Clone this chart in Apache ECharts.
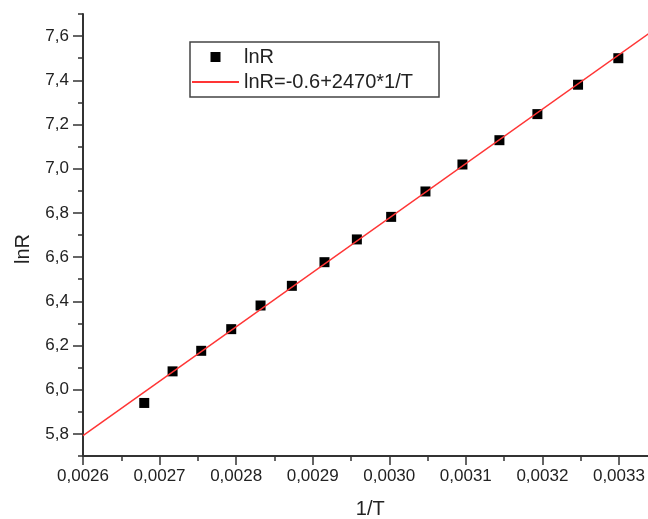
<!DOCTYPE html>
<html>
<head>
<meta charset="utf-8">
<script src="https://cdn.jsdelivr.net/npm/echarts@6/dist/echarts.min.js"></script>
<style>html,body{margin:0;padding:0;background:#fff;}#c{width:648px;height:519px;}</style>
</head>
<body>
<div id="c"></div>
<script>
// Data
var invT = [0.002680, 0.002717, 0.0027544, 0.0027936, 0.0028319, 0.0028728, 0.0029154, 0.0029577, 0.0030025, 0.0030473, 0.0030956, 0.0031439, 0.0031935, 0.0032466, 0.0032992];
var lnR = [5.940, 6.083, 6.176, 6.274, 6.381, 6.470, 6.577, 6.680, 6.782, 6.897, 7.019, 7.129, 7.247, 7.380, 7.500];
var fitX = [0.0026, 0.00334];
var fitY = [5.792, 7.614];
var seriesNames = ['lnR', 'lnR=-0.6+2470*1/T'];
var xTicks = {min: 0.0026, max: 0.0034, step: 0.0001};
var yTicks = {min: 5.8, max: 7.6, step: 0.2};
var yRange = {min: 5.7, max: 7.7, minorStep: 0.1};

var pts = invT.map(function (x, i) { return [x, lnR[i]]; });
var fit = fitX.map(function (x, i) { return [x, fitY[i]]; });

var FONT = '"Liberation Sans", Arial, sans-serif';
var TXT = '#222';
var AX = '#333';

var chart = echarts.init(document.getElementById('c'), null, {renderer: 'canvas'});
chart.setOption({
  animation: false,
  backgroundColor: '#fff',
  grid: [
    {left: 83, right: -47.5, top: 14, bottom: 63, outerBoundsMode: 'none', containLabel: false},
    {left: 83, right: -47.5, top: 36.1, bottom: 85.1, outerBoundsMode: 'none', containLabel: false}
  ],
  legend: {
    orient: 'vertical',
    left: 190, top: 42,
    padding: [5, 26, 5, 1],
    itemWidth: 47, itemHeight: 10, itemGap: 5, itemTextGap: 5,
    borderColor: '#444', borderWidth: 1.5,
    textStyle: {fontFamily: FONT, fontSize: 20, color: TXT},
    data: [
      {name: seriesNames[0], icon: 'path://M0,0H10V10H0Z', itemStyle: {color: '#000', opacity: 1}},
      {name: seriesNames[1], itemStyle: {color: 'rgba(0,0,0,0)', borderColor: 'rgba(0,0,0,0)', borderWidth: 0}}
    ]
  },
  xAxis: [
    {
      gridIndex: 0, type: 'value',
      min: xTicks.min, max: xTicks.max, interval: xTicks.step,
      name: '1/T', nameLocation: 'middle', nameGap: 43,
      nameTextStyle: {fontFamily: FONT, fontSize: 20, color: TXT, padding: [0, 38, 0, 0]},
      axisLine: {show: true, lineStyle: {color: AX, width: 2}},
      axisTick: {show: true, inside: false, length: 9, lineStyle: {color: AX, width: 1.5}},
      minorTick: {show: true, splitNumber: 2, length: 5, lineStyle: {color: AX, width: 1.5}},
      splitLine: {show: false},
      axisLabel: {
        fontFamily: FONT, fontSize: 17, color: TXT, margin: 12,
        formatter: function (v) { return v.toFixed(4).replace('.', ','); }
      }
    },
    {gridIndex: 1, type: 'value', min: 0, max: 1, show: false}
  ],
  yAxis: [
    {
      gridIndex: 0, type: 'value',
      min: yRange.min, max: yRange.max, interval: yRange.minorStep,
      axisLine: {show: true, lineStyle: {color: AX, width: 2}},
      axisTick: {show: true, length: 5, lineStyle: {color: AX, width: 1.5}},
      axisLabel: {show: false},
      splitLine: {show: false}
    },
    {
      gridIndex: 1, type: 'value',
      min: yTicks.min, max: yTicks.max, interval: yTicks.step,
      name: 'lnR', nameLocation: 'middle', nameGap: 50,
      nameTextStyle: {fontFamily: FONT, fontSize: 20, color: TXT, padding: [0, 28, 0, 0]},
      axisLine: {show: false},
      axisTick: {show: true, length: 10, lineStyle: {color: AX, width: 1.5}},
      splitLine: {show: false},
      axisLabel: {
        fontFamily: FONT, fontSize: 17, color: TXT, margin: 14,
        formatter: function (v) { return v.toFixed(1).replace('.', ','); }
      }
    }
  ],
  series: [
    {
      name: seriesNames[0], type: 'scatter', xAxisIndex: 0, yAxisIndex: 0,
      symbol: 'rect', symbolSize: 10,
      itemStyle: {color: '#000', opacity: 1},
      data: pts, z: 2
    },
    {
      name: seriesNames[1], type: 'line', xAxisIndex: 0, yAxisIndex: 0,
      symbol: 'none', showSymbol: false,
      lineStyle: {color: '#ff3535', width: 1.5},
      itemStyle: {color: '#ff3535'},
      data: fit, z: 3
    }
  ]
});
</script>
</body>
</html>
